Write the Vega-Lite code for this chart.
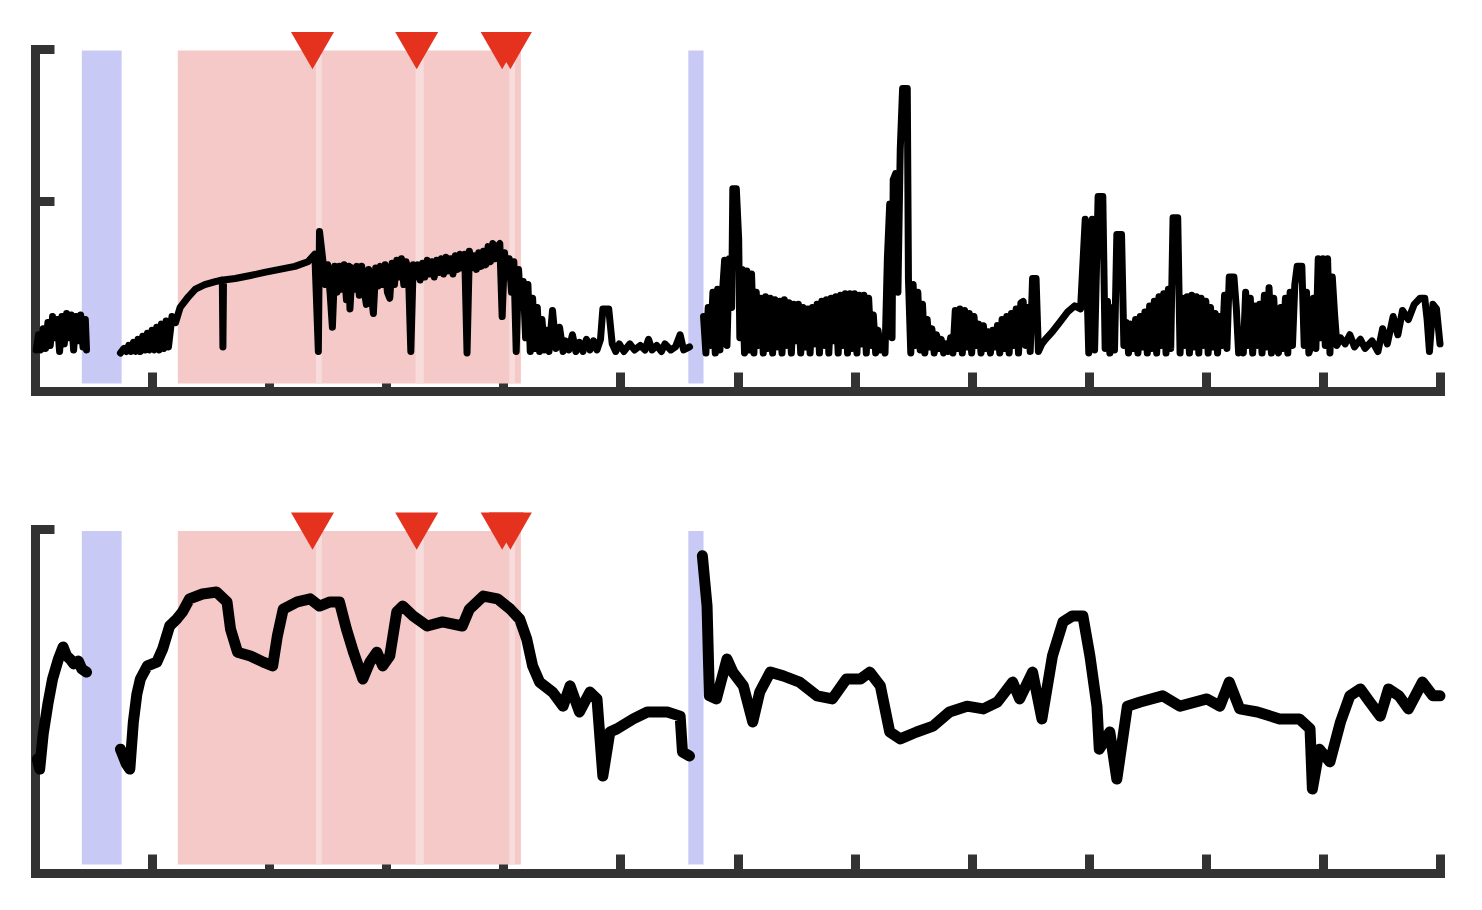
{
  "$schema": "https://vega.github.io/schema/vega-lite/v6.json",
  "background": "white",
  "padding": {"left": 30, "top": 31, "right": 0, "bottom": 0},
  "bounds": "flush",
  "spacing": 138,
  "config": {
    "view": {"stroke": null},
    "axis": {"labels": false, "title": null, "grid": false, "domainColor": "#333333", "domainWidth": 9, "domainCap": "square", "tickColor": "#333333", "tickWidth": 9, "tickSize": -19, "tickCap": "butt"}
  },
  "datasets": {
    "bands": [
      {"x1": 0.40, "x2": 0.74, "kind": "blue"},
      {"x1": 1.22, "x2": 4.15, "kind": "pink"},
      {"x1": 2.40, "x2": 2.45, "kind": "stripe"},
      {"x1": 3.25, "x2": 3.32, "kind": "stripe"},
      {"x1": 4.05, "x2": 4.10, "kind": "stripe"},
      {"x1": 5.58, "x2": 5.71, "kind": "blue"}
    ],
    "events": [{"t": 2.37}, {"t": 3.26}, {"t": 3.99}, {"t": 4.06}],
    "top": [
      {"t":0.01,"v":0.02,"s":1},{"t":0.03,"v":0.12,"s":1},{"t":0.05,"v":0.02,"s":1},{"t":0.07,"v":0.16,"s":1},{"t":0.09,"v":0.03,"s":1},{"t":0.11,"v":0.20,"s":1},{"t":0.13,"v":0.05,"s":1},{"t":0.15,"v":0.24,"s":1},{"t":0.17,"v":0.10,"s":1},{"t":0.19,"v":0.22,"s":1},{"t":0.21,"v":0.01,"s":1},{"t":0.23,"v":0.24,"s":1},{"t":0.25,"v":0.06,"s":1},{"t":0.27,"v":0.26,"s":1},{"t":0.29,"v":0.10,"s":1},{"t":0.31,"v":0.25,"s":1},{"t":0.33,"v":0.02,"s":1},{"t":0.35,"v":0.24,"s":1},{"t":0.37,"v":0.08,"s":1},{"t":0.39,"v":0.25,"s":1},{"t":0.41,"v":0.04,"s":1},{"t":0.43,"v":0.22,"s":1},{"t":0.44,"v":0.02,"s":1},
      {"t":0.73,"v":0.00,"s":2},{"t":0.76,"v":0.03,"s":2},{"t":0.78,"v":0.01,"s":2},{"t":0.80,"v":0.05,"s":2},{"t":0.82,"v":0.01,"s":2},{"t":0.84,"v":0.07,"s":2},{"t":0.86,"v":0.01,"s":2},{"t":0.88,"v":0.09,"s":2},{"t":0.90,"v":0.01,"s":2},{"t":0.92,"v":0.11,"s":2},{"t":0.94,"v":0.02,"s":2},{"t":0.96,"v":0.13,"s":2},{"t":0.98,"v":0.02,"s":2},{"t":1.00,"v":0.15,"s":2},{"t":1.02,"v":0.02,"s":2},{"t":1.04,"v":0.17,"s":2},{"t":1.06,"v":0.02,"s":2},{"t":1.08,"v":0.19,"s":2},{"t":1.10,"v":0.03,"s":2},{"t":1.12,"v":0.21,"s":2},{"t":1.14,"v":0.04,"s":2},{"t":1.17,"v":0.24,"s":2},{"t":1.20,"v":0.20,"s":2},{"t":1.24,"v":0.30,"s":2},{"t":1.31,"v":0.37,"s":2},{"t":1.37,"v":0.42,"s":2},{"t":1.45,"v":0.45,"s":2},{"t":1.54,"v":0.47,"s":2},{"t":1.60,"v":0.48,"s":2},{"t":1.605,"v":0.04,"s":2},{"t":1.61,"v":0.48,"s":2},{"t":1.71,"v":0.49,"s":2},{"t":1.84,"v":0.51,"s":2},{"t":1.96,"v":0.53,"s":2},{"t":2.09,"v":0.55,"s":2},{"t":2.22,"v":0.57,"s":2},{"t":2.33,"v":0.60,"s":2},{"t":2.39,"v":0.65,"s":2},{"t":2.42,"v":0.01,"s":2},{"t":2.43,"v":0.80,"s":2},
      {"t":2.46,"v":0.60,"s":2},{"t":2.48,"v":0.45,"s":2},{"t":2.50,"v":0.58,"s":2},{"t":2.52,"v":0.40,"s":2},{"t":2.54,"v":0.17,"s":2},{"t":2.56,"v":0.57,"s":2},{"t":2.58,"v":0.40,"s":2},{"t":2.60,"v":0.57,"s":2},{"t":2.62,"v":0.42,"s":2},{"t":2.64,"v":0.58,"s":2},{"t":2.66,"v":0.35,"s":2},{"t":2.68,"v":0.57,"s":2},{"t":2.69,"v":0.29,"s":2},{"t":2.71,"v":0.56,"s":2},{"t":2.73,"v":0.42,"s":2},{"t":2.75,"v":0.57,"s":2},{"t":2.77,"v":0.38,"s":2},{"t":2.79,"v":0.57,"s":2},{"t":2.81,"v":0.42,"s":2},{"t":2.83,"v":0.32,"s":2},{"t":2.85,"v":0.55,"s":2},{"t":2.87,"v":0.40,"s":2},{"t":2.89,"v":0.26,"s":2},{"t":2.91,"v":0.56,"s":2},{"t":2.93,"v":0.44,"s":2},{"t":2.95,"v":0.57,"s":2},{"t":2.97,"v":0.45,"s":2},{"t":2.99,"v":0.58,"s":2},{"t":3.01,"v":0.40,"s":2},{"t":3.03,"v":0.36,"s":2},{"t":3.05,"v":0.59,"s":2},{"t":3.07,"v":0.45,"s":2},{"t":3.09,"v":0.61,"s":2},{"t":3.11,"v":0.50,"s":2},{"t":3.13,"v":0.62,"s":2},{"t":3.15,"v":0.45,"s":2},{"t":3.17,"v":0.60,"s":2},{"t":3.19,"v":0.52,"s":2},{"t":3.21,"v":0.01,"s":2},{"t":3.23,"v":0.58,"s":2},{"t":3.25,"v":0.50,"s":2},{"t":3.27,"v":0.58,"s":2},{"t":3.29,"v":0.48,"s":2},{"t":3.31,"v":0.59,"s":2},{"t":3.33,"v":0.50,"s":2},{"t":3.35,"v":0.61,"s":2},{"t":3.37,"v":0.52,"s":2},{"t":3.39,"v":0.60,"s":2},{"t":3.41,"v":0.50,"s":2},{"t":3.43,"v":0.61,"s":2},{"t":3.45,"v":0.53,"s":2},{"t":3.47,"v":0.62,"s":2},{"t":3.49,"v":0.52,"s":2},{"t":3.51,"v":0.63,"s":2},{"t":3.53,"v":0.54,"s":2},{"t":3.55,"v":0.62,"s":2},{"t":3.57,"v":0.52,"s":2},{"t":3.59,"v":0.64,"s":2},{"t":3.61,"v":0.55,"s":2},{"t":3.63,"v":0.65,"s":2},{"t":3.65,"v":0.56,"s":2},{"t":3.67,"v":0.65,"s":2},{"t":3.69,"v":0.00,"s":2},{"t":3.71,"v":0.67,"s":2},{"t":3.73,"v":0.56,"s":2},{"t":3.75,"v":0.64,"s":2},{"t":3.77,"v":0.55,"s":2},{"t":3.79,"v":0.66,"s":2},{"t":3.81,"v":0.57,"s":2},{"t":3.83,"v":0.67,"s":2},{"t":3.85,"v":0.58,"s":2},{"t":3.87,"v":0.70,"s":2},{"t":3.89,"v":0.60,"s":2},{"t":3.91,"v":0.72,"s":2},{"t":3.93,"v":0.62,"s":2},{"t":3.95,"v":0.70,"s":2},{"t":3.97,"v":0.72,"s":2},{"t":3.99,"v":0.24,"s":2},{"t":4.01,"v":0.66,"s":2},{"t":4.03,"v":0.50,"s":2},{"t":4.05,"v":0.62,"s":2},{"t":4.07,"v":0.40,"s":2},{"t":4.09,"v":0.60,"s":2},{"t":4.11,"v":0.01,"s":2},{"t":4.13,"v":0.55,"s":2},{"t":4.15,"v":0.30,"s":2},{"t":4.17,"v":0.47,"s":2},{"t":4.19,"v":0.10,"s":2},{"t":4.21,"v":0.45,"s":2},{"t":4.23,"v":0.01,"s":2},{"t":4.25,"v":0.36,"s":2},{"t":4.27,"v":0.03,"s":2},{"t":4.29,"v":0.30,"s":2},{"t":4.31,"v":0.01,"s":2},{"t":4.33,"v":0.22,"s":2},{"t":4.35,"v":0.02,"s":2},{"t":4.37,"v":0.15,"s":2},{"t":4.39,"v":0.01,"s":2},{"t":4.42,"v":0.28,"s":2},{"t":4.45,"v":0.03,"s":2},{"t":4.48,"v":0.17,"s":2},{"t":4.51,"v":0.01,"s":2},{"t":4.53,"v":0.08,"s":2},{"t":4.56,"v":0.02,"s":2},{"t":4.59,"v":0.12,"s":2},{"t":4.62,"v":0.01,"s":2},{"t":4.65,"v":0.07,"s":2},{"t":4.68,"v":0.01,"s":2},{"t":4.71,"v":0.09,"s":2},{"t":4.74,"v":0.02,"s":2},{"t":4.77,"v":0.08,"s":2},{"t":4.80,"v":0.02,"s":2},{"t":4.83,"v":0.09,"s":2},{"t":4.85,"v":0.29,"s":2},{"t":4.90,"v":0.29,"s":2},{"t":4.93,"v":0.06,"s":2},{"t":4.96,"v":0.01,"s":2},{"t":4.99,"v":0.06,"s":2},{"t":5.03,"v":0.01,"s":2},{"t":5.08,"v":0.06,"s":2},{"t":5.12,"v":0.02,"s":2},{"t":5.17,"v":0.05,"s":2},{"t":5.21,"v":0.02,"s":2},{"t":5.24,"v":0.09,"s":2},{"t":5.27,"v":0.02,"s":2},{"t":5.31,"v":0.05,"s":2},{"t":5.35,"v":0.01,"s":2},{"t":5.38,"v":0.06,"s":2},{"t":5.43,"v":0.02,"s":2},{"t":5.47,"v":0.04,"s":2},{"t":5.51,"v":0.12,"s":2},{"t":5.54,"v":0.02,"s":2},{"t":5.59,"v":0.04,"s":2},
      {"t":5.71,"v":0.24,"s":3},{"t":5.73,"v":0.00,"s":3},{"t":5.75,"v":0.30,"s":3},{"t":5.77,"v":0.05,"s":3},{"t":5.79,"v":0.40,"s":3},{"t":5.81,"v":0.00,"s":3},{"t":5.83,"v":0.42,"s":3},{"t":5.85,"v":0.02,"s":3},{"t":5.87,"v":0.38,"s":3},{"t":5.89,"v":0.61,"s":3},{"t":5.91,"v":0.05,"s":3},{"t":5.93,"v":0.62,"s":3},{"t":5.95,"v":0.30,"s":3},{"t":5.96,"v":1.08,"s":3},{"t":5.99,"v":1.08,"s":3},{"t":6.01,"v":0.75,"s":3},{"t":6.02,"v":0.10,"s":3},{"t":6.04,"v":0.55,"s":3},{"t":6.06,"v":0.00,"s":3},{"t":6.08,"v":0.54,"s":3},{"t":6.10,"v":0.02,"s":3},{"t":6.12,"v":0.52,"s":3},{"t":6.14,"v":0.00,"s":3},{"t":6.16,"v":0.40,"s":3},{"t":6.18,"v":0.05,"s":3},{"t":6.20,"v":0.36,"s":3},{"t":6.22,"v":0.00,"s":3},{"t":6.24,"v":0.37,"s":3},{"t":6.26,"v":0.03,"s":3},{"t":6.28,"v":0.36,"s":3},{"t":6.30,"v":0.00,"s":3},{"t":6.32,"v":0.35,"s":3},{"t":6.34,"v":0.04,"s":3},{"t":6.36,"v":0.34,"s":3},{"t":6.38,"v":0.00,"s":3},{"t":6.40,"v":0.35,"s":3},{"t":6.42,"v":0.05,"s":3},{"t":6.44,"v":0.33,"s":3},{"t":6.46,"v":0.00,"s":3},{"t":6.48,"v":0.32,"s":3},{"t":6.50,"v":0.08,"s":3},{"t":6.52,"v":0.32,"s":3},{"t":6.54,"v":0.00,"s":3},{"t":6.56,"v":0.30,"s":3},{"t":6.58,"v":0.04,"s":3},{"t":6.60,"v":0.29,"s":3},{"t":6.62,"v":0.00,"s":3},{"t":6.64,"v":0.30,"s":3},{"t":6.66,"v":0.06,"s":3},{"t":6.68,"v":0.32,"s":3},{"t":6.70,"v":0.00,"s":3},{"t":6.72,"v":0.34,"s":3},{"t":6.74,"v":0.05,"s":3},{"t":6.76,"v":0.35,"s":3},{"t":6.78,"v":0.00,"s":3},{"t":6.80,"v":0.36,"s":3},{"t":6.82,"v":0.08,"s":3},{"t":6.84,"v":0.37,"s":3},{"t":6.86,"v":0.00,"s":3},{"t":6.88,"v":0.38,"s":3},{"t":6.90,"v":0.05,"s":3},{"t":6.92,"v":0.39,"s":3},{"t":6.94,"v":0.00,"s":3},{"t":6.96,"v":0.39,"s":3},{"t":6.98,"v":0.03,"s":3},{"t":7.00,"v":0.39,"s":3},{"t":7.02,"v":0.00,"s":3},{"t":7.04,"v":0.38,"s":3},{"t":7.06,"v":0.06,"s":3},{"t":7.08,"v":0.38,"s":3},{"t":7.10,"v":0.00,"s":3},{"t":7.12,"v":0.36,"s":3},{"t":7.14,"v":0.05,"s":3},{"t":7.16,"v":0.25,"s":3},{"t":7.18,"v":0.00,"s":3},{"t":7.20,"v":0.15,"s":3},{"t":7.22,"v":0.02,"s":3},{"t":7.24,"v":0.08,"s":3},{"t":7.26,"v":0.00,"s":3},{"t":7.28,"v":0.62,"s":3},{"t":7.30,"v":0.98,"s":3},{"t":7.32,"v":0.10,"s":3},{"t":7.33,"v":1.14,"s":3},{"t":7.35,"v":1.18,"s":3},{"t":7.37,"v":0.40,"s":3},{"t":7.39,"v":1.34,"s":3},{"t":7.41,"v":1.74,"s":3},{"t":7.45,"v":1.74,"s":3},{"t":7.46,"v":0.49,"s":3},{"t":7.48,"v":0.00,"s":3},{"t":7.50,"v":0.45,"s":3},{"t":7.52,"v":0.05,"s":3},{"t":7.54,"v":0.40,"s":3},{"t":7.56,"v":0.02,"s":3},{"t":7.58,"v":0.32,"s":3},{"t":7.60,"v":0.00,"s":3},{"t":7.62,"v":0.22,"s":3},{"t":7.64,"v":0.04,"s":3},{"t":7.66,"v":0.16,"s":3},{"t":7.68,"v":0.00,"s":3},{"t":7.70,"v":0.12,"s":3},{"t":7.72,"v":0.03,"s":3},{"t":7.74,"v":0.09,"s":3},{"t":7.76,"v":0.00,"s":3},{"t":7.78,"v":0.06,"s":3},{"t":7.80,"v":0.01,"s":3},{"t":7.82,"v":0.10,"s":3},{"t":7.84,"v":0.00,"s":3},{"t":7.86,"v":0.28,"s":3},{"t":7.88,"v":0.03,"s":3},{"t":7.90,"v":0.29,"s":3},{"t":7.92,"v":0.00,"s":3},{"t":7.94,"v":0.28,"s":3},{"t":7.96,"v":0.04,"s":3},{"t":7.98,"v":0.26,"s":3},{"t":8.00,"v":0.00,"s":3},{"t":8.02,"v":0.24,"s":3},{"t":8.04,"v":0.05,"s":3},{"t":8.06,"v":0.19,"s":3},{"t":8.08,"v":0.00,"s":3},{"t":8.10,"v":0.18,"s":3},{"t":8.12,"v":0.03,"s":3},{"t":8.14,"v":0.14,"s":3},{"t":8.16,"v":0.00,"s":3},{"t":8.18,"v":0.15,"s":3},{"t":8.20,"v":0.04,"s":3},{"t":8.22,"v":0.18,"s":3},{"t":8.24,"v":0.00,"s":3},{"t":8.26,"v":0.22,"s":3},{"t":8.28,"v":0.03,"s":3},{"t":8.30,"v":0.24,"s":3},{"t":8.32,"v":0.00,"s":3},{"t":8.34,"v":0.26,"s":3},{"t":8.36,"v":0.05,"s":3},{"t":8.38,"v":0.29,"s":3},{"t":8.40,"v":0.00,"s":3},{"t":8.42,"v":0.33,"s":3},{"t":8.44,"v":0.34,"s":3},{"t":8.46,"v":0.05,"s":3},{"t":8.48,"v":0.30,"s":3},{"t":8.50,"v":0.01,"s":3},{"t":8.52,"v":0.49,"s":3},{"t":8.55,"v":0.49,"s":3},{"t":8.57,"v":0.01,"s":3},{"t":8.60,"v":0.06,"s":3},{"t":8.63,"v":0.09,"s":3},{"t":8.69,"v":0.14,"s":3},{"t":8.75,"v":0.20,"s":3},{"t":8.82,"v":0.27,"s":3},{"t":8.88,"v":0.31,"s":3},{"t":8.93,"v":0.29,"s":3},{"t":8.97,"v":0.88,"s":3},{"t":9.00,"v":0.00,"s":3},{"t":9.03,"v":0.88,"s":3},{"t":9.05,"v":0.02,"s":3},{"t":9.08,"v":1.03,"s":3},{"t":9.12,"v":1.03,"s":3},{"t":9.14,"v":0.03,"s":3},{"t":9.16,"v":0.34,"s":3},{"t":9.18,"v":0.00,"s":3},{"t":9.20,"v":0.30,"s":3},{"t":9.22,"v":0.02,"s":3},{"t":9.24,"v":0.78,"s":3},{"t":9.28,"v":0.78,"s":3},{"t":9.30,"v":0.05,"s":3},{"t":9.32,"v":0.20,"s":3},{"t":9.34,"v":0.00,"s":3},{"t":9.36,"v":0.19,"s":3},{"t":9.38,"v":0.03,"s":3},{"t":9.40,"v":0.22,"s":3},{"t":9.42,"v":0.00,"s":3},{"t":9.44,"v":0.24,"s":3},{"t":9.46,"v":0.04,"s":3},{"t":9.48,"v":0.27,"s":3},{"t":9.50,"v":0.00,"s":3},{"t":9.52,"v":0.31,"s":3},{"t":9.54,"v":0.03,"s":3},{"t":9.56,"v":0.34,"s":3},{"t":9.58,"v":0.00,"s":3},{"t":9.60,"v":0.37,"s":3},{"t":9.62,"v":0.05,"s":3},{"t":9.64,"v":0.39,"s":3},{"t":9.66,"v":0.00,"s":3},{"t":9.68,"v":0.42,"s":3},{"t":9.70,"v":0.03,"s":3},{"t":9.72,"v":0.89,"s":3},{"t":9.76,"v":0.89,"s":3},{"t":9.78,"v":0.00,"s":3},{"t":9.80,"v":0.36,"s":3},{"t":9.82,"v":0.05,"s":3},{"t":9.84,"v":0.37,"s":3},{"t":9.86,"v":0.00,"s":3},{"t":9.88,"v":0.38,"s":3},{"t":9.90,"v":0.04,"s":3},{"t":9.92,"v":0.37,"s":3},{"t":9.94,"v":0.00,"s":3},{"t":9.96,"v":0.36,"s":3},{"t":9.98,"v":0.05,"s":3},{"t":10.00,"v":0.34,"s":3},{"t":10.02,"v":0.00,"s":3},{"t":10.04,"v":0.30,"s":3},{"t":10.06,"v":0.04,"s":3},{"t":10.08,"v":0.26,"s":3},{"t":10.10,"v":0.00,"s":3},{"t":10.12,"v":0.24,"s":3},{"t":10.14,"v":0.05,"s":3},{"t":10.16,"v":0.38,"s":3},{"t":10.18,"v":0.03,"s":3},{"t":10.20,"v":0.50,"s":3},{"t":10.24,"v":0.50,"s":3},{"t":10.26,"v":0.30,"s":3},{"t":10.28,"v":0.00,"s":3},{"t":10.30,"v":0.05,"s":3},{"t":10.32,"v":0.00,"s":3},{"t":10.34,"v":0.40,"s":3},{"t":10.36,"v":0.05,"s":3},{"t":10.38,"v":0.36,"s":3},{"t":10.40,"v":0.00,"s":3},{"t":10.42,"v":0.31,"s":3},{"t":10.44,"v":0.05,"s":3},{"t":10.46,"v":0.32,"s":3},{"t":10.48,"v":0.00,"s":3},{"t":10.50,"v":0.38,"s":3},{"t":10.52,"v":0.04,"s":3},{"t":10.54,"v":0.43,"s":3},{"t":10.56,"v":0.00,"s":3},{"t":10.58,"v":0.36,"s":3},{"t":10.60,"v":0.05,"s":3},{"t":10.62,"v":0.00,"s":3},{"t":10.64,"v":0.30,"s":3},{"t":10.66,"v":0.03,"s":3},{"t":10.68,"v":0.36,"s":3},{"t":10.70,"v":0.00,"s":3},{"t":10.72,"v":0.40,"s":3},{"t":10.74,"v":0.05,"s":3},{"t":10.76,"v":0.45,"s":3},{"t":10.78,"v":0.57,"s":3},{"t":10.82,"v":0.57,"s":3},{"t":10.84,"v":0.05,"s":3},{"t":10.86,"v":0.40,"s":3},{"t":10.88,"v":0.00,"s":3},{"t":10.90,"v":0.05,"s":3},{"t":10.92,"v":0.36,"s":3},{"t":10.94,"v":0.03,"s":3},{"t":10.96,"v":0.62,"s":3},{"t":10.98,"v":0.10,"s":3},{"t":11.00,"v":0.62,"s":3},{"t":11.02,"v":0.05,"s":3},{"t":11.04,"v":0.62,"s":3},{"t":11.06,"v":0.00,"s":3},{"t":11.08,"v":0.50,"s":3},{"t":11.10,"v":0.25,"s":3},{"t":11.12,"v":0.05,"s":3},{"t":11.15,"v":0.10,"s":3},{"t":11.19,"v":0.06,"s":3},{"t":11.23,"v":0.12,"s":3},{"t":11.27,"v":0.04,"s":3},{"t":11.32,"v":0.09,"s":3},{"t":11.36,"v":0.03,"s":3},{"t":11.42,"v":0.08,"s":3},{"t":11.47,"v":0.01,"s":3},{"t":11.51,"v":0.16,"s":3},{"t":11.55,"v":0.06,"s":3},{"t":11.60,"v":0.24,"s":3},{"t":11.64,"v":0.12,"s":3},{"t":11.68,"v":0.28,"s":3},{"t":11.73,"v":0.22,"s":3},{"t":11.78,"v":0.32,"s":3},{"t":11.83,"v":0.36,"s":3},{"t":11.87,"v":0.36,"s":3},{"t":11.89,"v":0.22,"s":3},{"t":11.91,"v":0.01,"s":3},{"t":11.94,"v":0.32,"s":3},{"t":11.97,"v":0.29,"s":3},{"t":12.00,"v":0.06,"s":3}
    ],
    "bottom": [
      {"t":0.02,"v":0.331,"s":1},{"t":0.04,"v":0.302,"s":1},{"t":0.07,"v":0.404,"s":1},{"t":0.11,"v":0.491,"s":1},{"t":0.15,"v":0.564,"s":1},{"t":0.20,"v":0.622,"s":1},{"t":0.24,"v":0.657,"s":1},{"t":0.27,"v":0.631,"s":1},{"t":0.30,"v":0.622,"s":1},{"t":0.33,"v":0.608,"s":1},{"t":0.37,"v":0.616,"s":1},{"t":0.40,"v":0.593,"s":1},{"t":0.44,"v":0.584,"s":1},
      {"t":0.73,"v":0.360,"s":2},{"t":0.78,"v":0.317,"s":2},{"t":0.81,"v":0.302,"s":2},{"t":0.84,"v":0.439,"s":2},{"t":0.87,"v":0.520,"s":2},{"t":0.90,"v":0.564,"s":2},{"t":0.96,"v":0.602,"s":2},{"t":1.04,"v":0.613,"s":2},{"t":1.09,"v":0.651,"s":2},{"t":1.15,"v":0.718,"s":2},{"t":1.21,"v":0.738,"s":2},{"t":1.26,"v":0.759,"s":2},{"t":1.32,"v":0.797,"s":2},{"t":1.43,"v":0.811,"s":2},{"t":1.55,"v":0.817,"s":2},{"t":1.64,"v":0.788,"s":2},{"t":1.67,"v":0.709,"s":2},{"t":1.73,"v":0.642,"s":2},{"t":1.84,"v":0.631,"s":2},{"t":1.95,"v":0.613,"s":2},{"t":2.03,"v":0.602,"s":2},{"t":2.07,"v":0.689,"s":2},{"t":2.12,"v":0.767,"s":2},{"t":2.24,"v":0.788,"s":2},{"t":2.35,"v":0.797,"s":2},{"t":2.43,"v":0.776,"s":2},{"t":2.52,"v":0.788,"s":2},{"t":2.60,"v":0.788,"s":2},{"t":2.66,"v":0.709,"s":2},{"t":2.72,"v":0.642,"s":2},{"t":2.80,"v":0.564,"s":2},{"t":2.86,"v":0.613,"s":2},{"t":2.92,"v":0.642,"s":2},{"t":2.97,"v":0.602,"s":2},{"t":3.03,"v":0.631,"s":2},{"t":3.09,"v":0.759,"s":2},{"t":3.14,"v":0.776,"s":2},{"t":3.23,"v":0.747,"s":2},{"t":3.35,"v":0.718,"s":2},{"t":3.48,"v":0.730,"s":2},{"t":3.65,"v":0.718,"s":2},{"t":3.71,"v":0.767,"s":2},{"t":3.83,"v":0.805,"s":2},{"t":3.95,"v":0.797,"s":2},{"t":4.06,"v":0.767,"s":2},{"t":4.14,"v":0.738,"s":2},{"t":4.20,"v":0.680,"s":2},{"t":4.25,"v":0.602,"s":2},{"t":4.31,"v":0.555,"s":2},{"t":4.42,"v":0.526,"s":2},{"t":4.51,"v":0.485,"s":2},{"t":4.57,"v":0.544,"s":2},{"t":4.65,"v":0.468,"s":2},{"t":4.74,"v":0.526,"s":2},{"t":4.80,"v":0.506,"s":2},{"t":4.85,"v":0.282,"s":2},{"t":4.91,"v":0.410,"s":2},{"t":4.97,"v":0.419,"s":2},{"t":5.11,"v":0.448,"s":2},{"t":5.23,"v":0.468,"s":2},{"t":5.40,"v":0.468,"s":2},{"t":5.51,"v":0.456,"s":2},{"t":5.53,"v":0.352,"s":2},{"t":5.59,"v":0.340,"s":2},
      {"t":5.70,"v":0.922,"s":3},{"t":5.74,"v":0.776,"s":3},{"t":5.76,"v":0.515,"s":3},{"t":5.82,"v":0.506,"s":3},{"t":5.91,"v":0.622,"s":3},{"t":5.96,"v":0.584,"s":3},{"t":6.05,"v":0.544,"s":3},{"t":6.13,"v":0.439,"s":3},{"t":6.19,"v":0.526,"s":3},{"t":6.28,"v":0.584,"s":3},{"t":6.39,"v":0.573,"s":3},{"t":6.53,"v":0.555,"s":3},{"t":6.68,"v":0.515,"s":3},{"t":6.81,"v":0.506,"s":3},{"t":6.93,"v":0.564,"s":3},{"t":7.05,"v":0.564,"s":3},{"t":7.13,"v":0.584,"s":3},{"t":7.22,"v":0.544,"s":3},{"t":7.30,"v":0.410,"s":3},{"t":7.39,"v":0.390,"s":3},{"t":7.53,"v":0.410,"s":3},{"t":7.67,"v":0.427,"s":3},{"t":7.81,"v":0.468,"s":3},{"t":7.96,"v":0.485,"s":3},{"t":8.10,"v":0.477,"s":3},{"t":8.22,"v":0.497,"s":3},{"t":8.35,"v":0.555,"s":3},{"t":8.41,"v":0.506,"s":3},{"t":8.52,"v":0.584,"s":3},{"t":8.60,"v":0.448,"s":3},{"t":8.69,"v":0.631,"s":3},{"t":8.78,"v":0.730,"s":3},{"t":8.86,"v":0.747,"s":3},{"t":8.95,"v":0.747,"s":3},{"t":9.01,"v":0.631,"s":3},{"t":9.07,"v":0.485,"s":3},{"t":9.09,"v":0.360,"s":3},{"t":9.18,"v":0.410,"s":3},{"t":9.24,"v":0.273,"s":3},{"t":9.33,"v":0.485,"s":3},{"t":9.44,"v":0.497,"s":3},{"t":9.63,"v":0.515,"s":3},{"t":9.78,"v":0.485,"s":3},{"t":10.01,"v":0.506,"s":3},{"t":10.12,"v":0.485,"s":3},{"t":10.20,"v":0.555,"s":3},{"t":10.29,"v":0.477,"s":3},{"t":10.44,"v":0.468,"s":3},{"t":10.63,"v":0.448,"s":3},{"t":10.80,"v":0.448,"s":3},{"t":10.89,"v":0.419,"s":3},{"t":10.91,"v":0.244,"s":3},{"t":10.97,"v":0.360,"s":3},{"t":11.06,"v":0.323,"s":3},{"t":11.15,"v":0.439,"s":3},{"t":11.23,"v":0.515,"s":3},{"t":11.32,"v":0.535,"s":3},{"t":11.40,"v":0.497,"s":3},{"t":11.49,"v":0.456,"s":3},{"t":11.56,"v":0.535,"s":3},{"t":11.65,"v":0.515,"s":3},{"t":11.73,"v":0.477,"s":3},{"t":11.85,"v":0.555,"s":3},{"t":11.94,"v":0.515,"s":3},{"t":12.00,"v":0.515,"s":3}
    ]
  },
  "vconcat": [
    {
      "width": 1405,
      "height": 342,
      "layer": [
        {
          "data": {"name": "bands"},
          "mark": {"type": "rect"},
          "encoding": {
            "x": {"field": "x1", "type": "quantitative", "scale": {"domain": [0, 12], "nice": false, "zero": false}, "axis": {"values": [0,1,2,3,4,5,6,7,8,9,10,11,12]}},
            "x2": {"field": "x2"},
            "y": {"datum": -0.2, "type": "quantitative", "scale": {"domain": [-0.25, 2], "nice": false, "zero": false}, "axis": {"values": [1, 2]}},
            "y2": {"datum": 1.99},
            "color": {"field": "kind", "type": "nominal", "scale": {"domain": ["blue", "pink", "stripe"], "range": ["#c9c9f5", "#f4c9c8", "#f7dcdb"]}, "legend": null}
          }
        },
        {
          "data": {"name": "top"},
          "mark": {"type": "line", "color": "black", "strokeWidth": 7, "strokeJoin": "round", "strokeCap": "round"},
          "encoding": {
            "x": {"field": "t", "type": "quantitative"},
            "y": {"field": "v", "type": "quantitative"},
            "detail": {"field": "s", "type": "nominal"}
          }
        },
        {
          "data": {"name": "events"},
          "mark": {"type": "point", "shape": "triangle-down", "filled": true, "color": "#e5321f", "opacity": 1, "size": 1849},
          "encoding": {
            "x": {"field": "t", "type": "quantitative"},
            "y": {"datum": 1.99, "type": "quantitative"}
          }
        }
      ]
    },
    {
      "width": 1405,
      "height": 344,
      "layer": [
        {
          "data": {"name": "bands"},
          "mark": {"type": "rect"},
          "encoding": {
            "x": {"field": "x1", "type": "quantitative", "scale": {"domain": [0, 12], "nice": false, "zero": false}, "axis": {"values": [0,1,2,3,4,5,6,7,8,9,10,11,12]}},
            "x2": {"field": "x2"},
            "y": {"datum": 0.025, "type": "quantitative", "scale": {"domain": [0, 1], "nice": false, "zero": false}, "axis": {"values": [1]}},
            "y2": {"datum": 0.994},
            "color": {"field": "kind", "type": "nominal", "scale": {"domain": ["blue", "pink", "stripe"], "range": ["#c9c9f5", "#f4c9c8", "#f7dcdb"]}, "legend": null}
          }
        },
        {
          "data": {"name": "bottom"},
          "mark": {"type": "line", "color": "black", "strokeWidth": 11, "strokeJoin": "round", "strokeCap": "round"},
          "encoding": {
            "x": {"field": "t", "type": "quantitative"},
            "y": {"field": "v", "type": "quantitative"},
            "detail": {"field": "s", "type": "nominal"}
          }
        },
        {
          "data": {"name": "events"},
          "mark": {"type": "point", "shape": "triangle-down", "filled": true, "color": "#e5321f", "opacity": 1, "size": 1849},
          "encoding": {
            "x": {"field": "t", "type": "quantitative"},
            "y": {"datum": 0.994, "type": "quantitative"}
          }
        }
      ]
    }
  ]
}
